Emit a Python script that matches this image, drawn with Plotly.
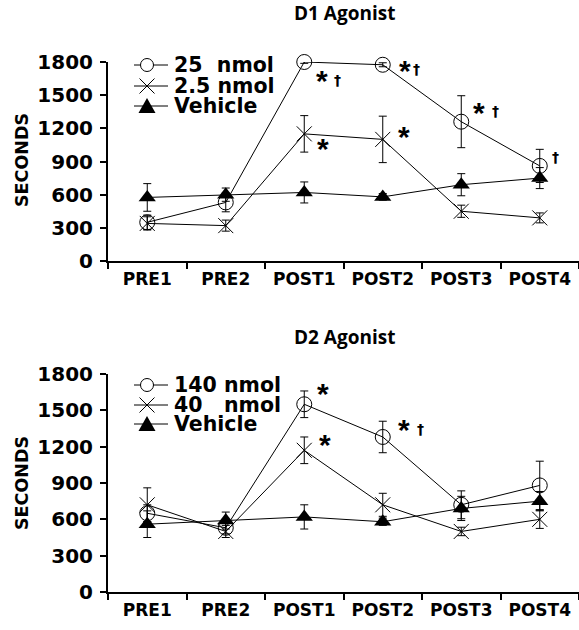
import plotly.graph_objects as go

# ---------------- data ----------------
categories = ["PRE1", "PRE2", "POST1", "POST2", "POST3", "POST4"]
y_tick_vals = [0, 300, 600, 900, 1200, 1500, 1800]

d1_title = "D1 Agonist"
d1_labels = ["25  nmol", "2.5 nmol", "Vehicle"]
d1_high = [350, 530, 1800, 1775, 1260, 860]
d1_high_err = [65, 85, 12, 18, 235, 150]
d1_low = [340, 320, 1150, 1100, 450, 390]
d1_low_err = [60, 50, 165, 210, 55, 45]
d1_veh = [575, 600, 620, 580, 690, 750]
d1_veh_err = [125, 60, 95, 30, 100, 95]

d2_title = "D2 Agonist"
d2_labels = ["140 nmol", "40   nmol", "Vehicle"]
d2_high = [650, 530, 1550, 1280, 720, 880]
d2_high_err = [70, 50, 110, 130, 115, 200]
d2_low = [720, 500, 1170, 720, 500, 600]
d2_low_err = [140, 50, 110, 95, 35, 75]
d2_veh = [560, 590, 620, 580, 690, 750]
d2_veh_err = [110, 70, 100, 30, 100, 80]

# significance marks: (category, value, text, xshift)
d1_marks = [("POST1", 1630, "*", 18), ("POST2", 1725, "*", 22), ("POST3", 1345, "*", 18),
            ("POST1", 1015, "*", 19), ("POST2", 1125, "*", 21)]
d1_daggers = [("POST1", 1640, "†", 33), ("POST2", 1740, "†", 34), ("POST3", 1360, "†", 34),
              ("POST4", 940, "†", 16)]
d2_marks = [("POST1", 1640, "*", 19), ("POST1", 1215, "*", 21), ("POST2", 1340, "*", 21)]
d2_daggers = [("POST2", 1350, "†", 38)]

# ---------------- layout helpers ----------------
W, H = 579, 630
L = 108
PW = W - L


def px(x):
    return (x - L) / PW


def py(y):
    return 1 - y / H


AX_FONT = "DejaVu Sans, Liberation Sans, sans-serif"
TITLE_FONT = "Open Sans, Noto Sans, sans-serif"

fig = go.Figure()


def add_panel(xa, ya, high, high_err, low, low_err, veh, veh_err):
    common = dict(x=categories, mode="lines+markers", xaxis=xa, yaxis=ya,
                  line=dict(color="black", width=1), showlegend=False,
                  cliponaxis=False)
    eb = dict(type="data", visible=True, color="black", thickness=1, width=4)
    fig.add_trace(go.Scatter(y=veh, error_y=dict(array=veh_err, **eb),
                             marker=dict(symbol="triangle-up", size=15, color="black",
                                         line=dict(width=0)), **common))
    fig.add_trace(go.Scatter(y=low, error_y=dict(array=low_err, **eb),
                             marker=dict(symbol="x-thin-open", size=15,
                                         line=dict(width=1, color="black")), **common))
    fig.add_trace(go.Scatter(y=high, error_y=dict(array=high_err, **eb),
                             marker=dict(symbol="circle-open", size=15, color="black",
                                         line=dict(width=1, color="black")), **common))


add_panel("x", "y", d1_high, d1_high_err, d1_low, d1_low_err, d1_veh, d1_veh_err)
add_panel("x2", "y2", d2_high, d2_high_err, d2_low, d2_low_err, d2_veh, d2_veh_err)

xaxis_style = dict(
    type="category", categoryorder="array", categoryarray=categories,
    range=[-0.5, 5.5], domain=[0, 1], showline=True, linecolor="black", linewidth=2,
    ticks="outside", tickson="boundaries", ticklen=6, tickwidth=2, tickcolor="black",
    showgrid=False, zeroline=False, fixedrange=True, automargin=False,
    ticklabelstandoff=2,
    tickfont=dict(family=AX_FONT, size=17, color="black", weight="bold"),
)
yaxis_style = dict(
    range=[0, 1800], tickvals=y_tick_vals, showline=True, linecolor="black",
    linewidth=2, ticks="outside", ticklen=6, tickwidth=2, tickcolor="black",
    showgrid=False, zeroline=False, fixedrange=True, automargin=False,
    ticklabelstandoff=3,
    tickfont=dict(family=AX_FONT, size=20, color="black", weight="bold"),
)

annotations = []
shapes = []


def panel_decor(title, title_y, labels, leg_rows, xref, yref, marks, daggers, ylabel_y):
    annotations.append(dict(text=title, xref="paper", yref="paper", x=px(344), y=py(title_y),
                            showarrow=False, xanchor="center", yanchor="middle",
                            font=dict(family=TITLE_FONT, size=19, color="black", weight="bold")))
    annotations.append(dict(text="SECONDS", xref="paper", yref="paper", x=px(22), y=py(ylabel_y),
                            textangle=-90, showarrow=False, xanchor="center", yanchor="middle",
                            font=dict(family=AX_FONT, size=17.5, color="black", weight="bold")))
    symbols = ["circle", "x", "tri"]
    for lab, yc, sym in zip(labels, leg_rows, symbols):
        shapes.append(dict(type="line", xref="paper", yref="paper",
                           x0=px(134), x1=px(168), y0=py(yc), y1=py(yc),
                           line=dict(color="black", width=1)))
        cx = 147
        if sym == "circle":
            r = 6.5
            shapes.append(dict(type="circle", xref="paper", yref="paper",
                               x0=px(cx - r), x1=px(cx + r), y0=py(yc - r), y1=py(yc + r),
                               fillcolor="white", line=dict(color="black", width=1)))
        elif sym == "x":
            r = 7.5
            shapes.append(dict(type="line", xref="paper", yref="paper",
                               x0=px(cx - r), x1=px(cx + r), y0=py(yc - r), y1=py(yc + r),
                               line=dict(color="black", width=1)))
            shapes.append(dict(type="line", xref="paper", yref="paper",
                               x0=px(cx - r), x1=px(cx + r), y0=py(yc + r), y1=py(yc - r),
                               line=dict(color="black", width=1)))
        else:
            path = "M {} {} L {} {} L {} {} Z".format(px(cx), py(yc - 8), px(cx - 8.5), py(yc + 7),
                                                      px(cx + 8.5), py(yc + 7))
            shapes.append(dict(type="path", xref="paper", yref="paper", path=path,
                               fillcolor="black", line=dict(color="black", width=0)))
        annotations.append(dict(text=lab, xref="paper", yref="paper", x=px(172), y=py(yc),
                                showarrow=False, xanchor="left", yanchor="middle",
                                font=dict(family=AX_FONT, size=20.5, color="black", weight="bold")))
    for cat, val, txt, sh in marks:
        annotations.append(dict(text=txt, xref=xref, yref=yref, x=cat, y=val, xshift=sh,
                                showarrow=False, xanchor="center", yanchor="middle",
                                font=dict(family="Liberation Sans, Arial, sans-serif", size=30,
                                          color="black", weight="bold")))
    for cat, val, txt, sh in daggers:
        annotations.append(dict(text=txt, xref=xref, yref=yref, x=cat, y=val, xshift=sh,
                                showarrow=False, xanchor="center", yanchor="middle",
                                font=dict(family="DejaVu Sans, sans-serif", size=14,
                                          color="black", weight="bold")))


panel_decor(d1_title, 13, d1_labels, [65, 86, 106], "x", "y", d1_marks, d1_daggers, 160)
panel_decor(d2_title, 337, d2_labels, [385, 405, 424], "x2", "y2", d2_marks, d2_daggers, 483)

fig.update_layout(
    width=W, height=H,
    margin=dict(l=L, r=0, t=0, b=0, pad=0),
    paper_bgcolor="white", plot_bgcolor="white",
    xaxis=dict(anchor="y", **xaxis_style),
    yaxis=dict(anchor="x", domain=[py(261), py(62)], **yaxis_style),
    xaxis2=dict(anchor="y2", **xaxis_style),
    yaxis2=dict(anchor="x2", domain=[py(592), py(374)], **yaxis_style),
    annotations=annotations,
    shapes=shapes,
    showlegend=False,
)

fig.write_html("out.html")
